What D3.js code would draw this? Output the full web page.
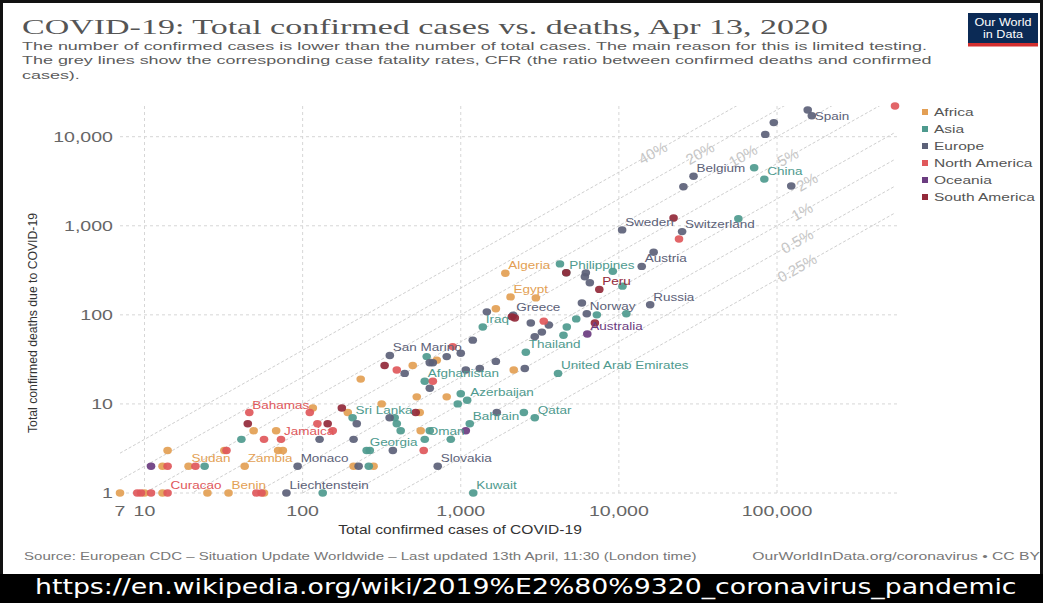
<!DOCTYPE html>
<html><head><meta charset="utf-8">
<script src="https://cdn.jsdelivr.net/npm/d3@7"></script>
<style>body{margin:0;background:#fff} svg{display:block}</style>
</head><body>
<svg id="c" width="1043" height="603"></svg>
<script>
// ---------- DATA ----------
const continents = ["Africa","Asia","Europe","North America","Oceania","South America"];
const continentColors = ["#E39F54","#4E9A8E","#5C6178","#E0585B","#6B3C80","#93293A"];

// [total confirmed cases, total confirmed deaths, label]
const africa = [[7,1],[10,1],[13,1],[25,1],[34,1,"Benin"],[57,1],
  [13,2],[19,2,"Sudan"],[43,2,"Zambia"],[210,2],[281,2],
  [14,3],[32,3],[70,3],[75,3],[49,5],[68,5],[558,5],
  [193,8],[550,8],[116,9],[316,10],[527,12],[815,12],
  [233,19],[497,27],[705,31],[2163,24],
  [1667,117],[2065,159,"Egypt"],[2985,155],[1914,293,"Algeria"]];
const asia = [[134,1],[1200,1,"Kuwait"],[24,2],[262,2],[254,3,"Georgia"],[266,3],
  [41,4],[592,4,"Oman"],[865,4],[417,5],[637,5],[394,6],[1140,6,"Bahrain"],
  [207,7,"Sri Lanka"],[382,7],[2939,7,"Qatar"],[2506,8],[957,10],[1098,11,"Azerbaijan"],[1000,13],
  [592,18,"Afghanistan"],[609,34],[4123,22,"United Arab Emirates"],[2579,38,"Thailand"],[1378,73,"Iraq"],
  [4462,59],[4683,73],[5374,90],[7255,100],[11145,103],[10537,210],[9152,308],[4241,373],[4648,297,"Philippines"],
  [56956,1198],[71686,4474],[83134,3343,"China"]];
const europe = [[79,1,"Liechtenstein"],[93,2,"Monaco"],[226,2],[715,2,"Slovakia"],[372,3],[128,4],[210,4],[220,6],[355,7],[1690,8],
  [356,35,"San Marino"],[442,22],[637,29],[666,29],[815,34],[1000,37],[1191,52],[637,15],[1076,24],[1319,25],[1667,30],[2541,25],
  [3258,64],[2939,57],[2773,81],[3604,77],[2145,99,"Greece"],[1462,108],[5836,136],[6270,103,"Norway"],[6180,296],[6095,268],[6550,229],
  [13945,350,"Austria"],[16585,504],[15770,130,"Russia"],[10483,899,"Sweden"],[25100,860,"Switzerland"],[29647,3600,"Belgium"],[25587,2737],
  [123016,2799],[84279,10612],[95403,14393],[156363,19899],[166019,17209,"Spain"]];
const northAmerica = [[9,1],[9.5,1],[11,1],[14,1,"Curacao"],[51,1],[55,1],[14,2],[21,2],[33,3],[583,3],[57,4],[73,4,"Jamaica"],
  [155,5],[124,6],[46,8,"Bahamas"],[111,8],[394,24],[666,18],[889,44],[3350,85],[24000,710],[557300,22108]];
const oceania = [[11,2],[1076,5],[6313,61,"Australia"]];
const southAmerica = [[45,6],[144,6],[177,9],[519,8],[330,27],[2104,95],[2198,92],[4648,297],[7050,81],[7519,193,"Peru"],[22169,1223]];
const seriesData = [africa, asia, europe, northAmerica, oceania, southAmerica];

const cfrRates = [0.4,0.2,0.1,0.05,0.02,0.01,0.005,0.0025];
const cfrLabels = ["40%","20%","10%","5%","2%","1%","0.5%","0.25%"];
const cfrLabelCases = [16400,32600,61000,117000,155000,144000,134000,134000];

const xTicks = [7,10,100,1000,10000,100000];
const xTickLabels = ["7","10","100","1,000","10,000","100,000"];
const xGrid = [10,100,1000,10000,100000];
const yTicks = [1,10,100,1000,10000];
const yTickLabels = ["1","10","100","1,000","10,000"];

const titleText = "COVID-19: Total confirmed cases vs. deaths, Apr 13, 2020";
const subtitleLines = ["The number of confirmed cases is lower than the number of total cases. The main reason for this is limited testing.",
  " The grey lines show the corresponding case fatality rates, CFR (the ratio between confirmed deaths and confirmed",
  "cases)."];
const sourceText = "Source: European CDC \u2013 Situation Update Worldwide \u2013 Last updated 13th April, 11:30 (London time)";
const creditText = "OurWorldInData.org/coronavirus \u2022 CC BY";
const urlText = "https://en.wikipedia.org/wiki/2019%E2%80%9320_coronavirus_pandemic";
const xTitle = "Total confirmed cases of COVID-19";
const yTitle = "Total confirmed deaths due to COVID-19";

// ---------- DRAW ----------
const svg = d3.select("#c");
const SX = 1.35;
const SANS = "'Liberation Sans', Arial, sans-serif";

function stext(g, str, x, y, o) {
  const t = g.append("text").text(str)
    .attr("font-family", o.family || SANS)
    .attr("font-size", o.size)
    .attr("fill", o.color || "#555")
    .attr("text-anchor", o.anchor || "start")
    .attr("transform", `translate(${x},${y})`);
  if (o.weight) t.attr("font-weight", o.weight);
  let sx = o.sx || SX;
  if (o.width) sx = o.width / t.node().getComputedTextLength();
  t.attr("transform", `translate(${x},${y}) scale(${sx},1)`);
  return sx;
}

const x = d3.scaleLog().domain([7, 557300]).range([120, 895]);
const y = d3.scaleLog().domain([1, 22108]).range([493, 106]);
const [x0, x1] = x.range(), [y0, y1] = y.range();

svg.append("defs").append("clipPath").attr("id","plotclip")
  .append("rect").attr("x", x0).attr("y", y1).attr("width", x1 - x0 + 2).attr("height", y0 - y1);

// gridlines
const grid = svg.append("g");
grid.selectAll("line.h").data(yTicks).join("line")
  .attr("x1", x0).attr("x2", x1 + 2).attr("y1", d => y(d)).attr("y2", d => y(d))
  .attr("stroke", "#d6d6d6").attr("stroke-dasharray", "3,3");
grid.selectAll("line.v").data(xGrid).join("line")
  .attr("y1", y1).attr("y2", y0).attr("x1", d => x(d)).attr("x2", d => x(d))
  .attr("stroke", "#d6d6d6").attr("stroke-dasharray", "3,3");

// CFR lines
const cfrG = svg.append("g").attr("clip-path", "url(#plotclip)");
const dom = x.domain();
cfrG.selectAll("line").data(cfrRates).join("line")
  .attr("x1", x(dom[0])).attr("y1", d => y(dom[0] * d))
  .attr("x2", x(dom[1])).attr("y2", d => y(dom[1] * d))
  .attr("stroke", "#cfcfcf").attr("stroke-dasharray", "3,2");
const ang = Math.atan2(y(1) - y(10), x(100) - x(10)) * 180 / Math.PI;
cfrRates.forEach((r, i) => {
  const cx = x(cfrLabelCases[i]), cy = y(cfrLabelCases[i] * r);
  svg.append("text").text(cfrLabels[i])
    .attr("transform", `translate(${cx},${cy}) rotate(${-ang})`)
    .attr("text-anchor", "middle").attr("dy", "0.35em")
    .attr("font-family", SANS).attr("font-size", 15).attr("fill", "#c6c6c6");
});

// dots
const dotsG = svg.append("g");
seriesData.forEach((arr, ci) => {
  dotsG.append("g").selectAll("ellipse").data(arr).join("ellipse")
    .attr("cx", d => x(d[0])).attr("cy", d => y(d[1]))
    .attr("rx", 4.3).attr("ry", 3.7)
    .attr("fill", continentColors[ci]).attr("fill-opacity", 0.92);
});
// labels
const labG = svg.append("g");
seriesData.forEach((arr, ci) => {
  arr.filter(d => d[2]).forEach(d => {
    const isRight = d[2] === "Spain";
    stext(labG, d[2], x(d[0]) + 3, y(d[1]) + (isRight ? 4 : -4), {size: 10, color: continentColors[ci]});
  });
});

// axes tick labels
yTicks.forEach((t, i) => stext(svg, yTickLabels[i], 113, y(t) + 5, {size: 14.5, color: "#666", anchor: "end"}));
xTicks.forEach((t, i) => stext(svg, xTickLabels[i], x(t), 516, {size: 14.5, color: "#666", anchor: "middle"}));

// axis titles
stext(svg, xTitle, 460, 534, {size: 12, color: "#333", anchor: "middle", width: 244});
svg.append("text").text(yTitle)
  .attr("transform", `translate(37,323) rotate(-90)`)
  .attr("text-anchor", "middle").attr("font-family", SANS).attr("font-size", 12.5)
  .attr("fill", "#333").attr("textLength", 220).attr("lengthAdjust", "spacingAndGlyphs");

// legend
const leg = svg.append("g");
continents.forEach((c, i) => {
  const cy = 112 + i * 17;
  leg.append("rect").attr("x", 922).attr("y", cy - 3).attr("width", 6).attr("height", 6).attr("fill", continentColors[i]);
  stext(leg, c, 934, cy + 4, {size: 11.5, color: "#555"});
});

// title & subtitle
stext(svg, titleText, 22, 34, {size: 21, color: "#555", family: "'Liberation Serif', 'DejaVu Serif', serif", width: 806});
const ssx = stext(svg, subtitleLines[0], 22, 50, {size: 11, color: "#5b5b5b", width: 906});
stext(svg, subtitleLines[1], 22, 64, {size: 11, color: "#5b5b5b", sx: ssx});
stext(svg, subtitleLines[2], 22, 78.5, {size: 11, color: "#5b5b5b", sx: ssx});

// logo
svg.append("rect").attr("x", 968).attr("y", 13).attr("width", 70).attr("height", 33).attr("fill", "#0b2a55");
svg.append("rect").attr("x", 968).attr("y", 43).attr("width", 70).attr("height", 3.5).attr("fill", "#d32f2f");
stext(svg, "Our World", 1003, 26, {size: 10.5, color: "#fff", anchor: "middle", sx: 1.2});
stext(svg, "in Data", 1003, 38, {size: 10.5, color: "#fff", anchor: "middle", sx: 1.2});

// footer
stext(svg, sourceText, 24, 560, {size: 11, color: "#777", width: 673});
stext(svg, creditText, 1040, 560, {size: 11, color: "#777", anchor: "end", width: 288});

// frame
svg.append("rect").attr("x", 1.5).attr("y", 1.5).attr("width", 1040).attr("height", 600)
  .attr("fill", "none").attr("stroke", "#111").attr("stroke-width", 3);

// url bar
svg.append("rect").attr("x", 0).attr("y", 574).attr("width", 1043).attr("height", 29).attr("fill", "#000");
stext(svg, urlText, 35, 594, {size: 21, color: "#fff", family: "'DejaVu Sans', sans-serif", width: 982});
</script>
</body></html>
